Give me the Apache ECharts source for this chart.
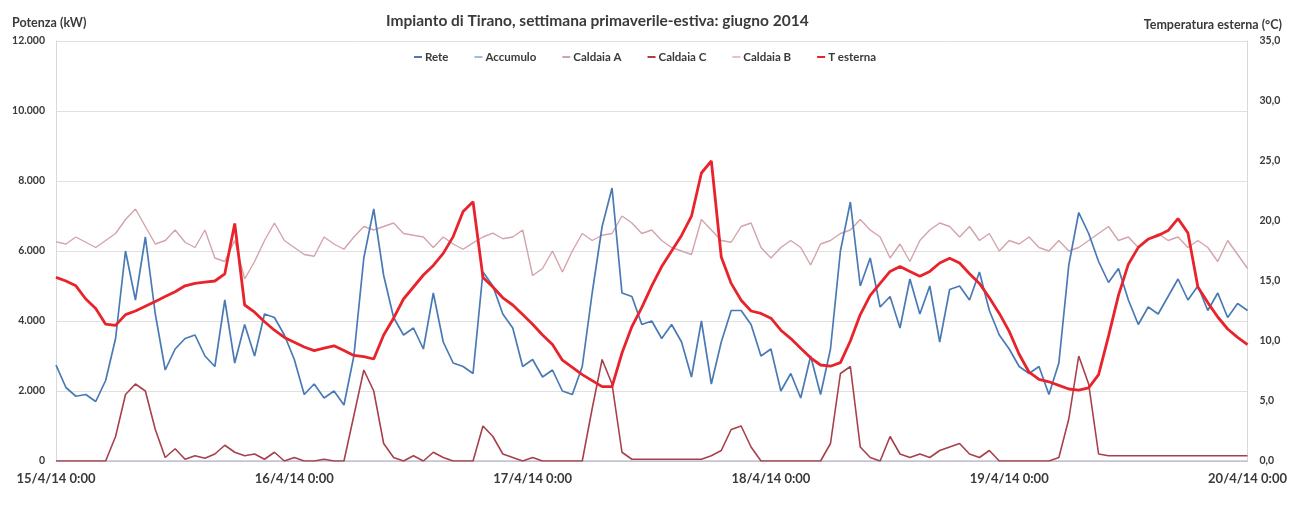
<!DOCTYPE html>
<html><head><meta charset="utf-8">
<script src="https://cdn.jsdelivr.net/npm/echarts@6/dist/echarts.min.js"></script>
<style>html,body{margin:0;padding:0;background:#fff}#c{width:1290px;height:513px}</style>
</head><body><div id="c"></div>
<script>
const xLabels = ['15/4/14 0:00','16/4/14 0:00','17/4/14 0:00','18/4/14 0:00','19/4/14 0:00','20/4/14 0:00'];
const seriesNames = ['Rete','Accumulo','Caldaia A','Caldaia C','Caldaia B','T esterna'];
// hourly values, 15/4 0:00 .. 20/4 0:00
const rete = [
 2740,2100,1850,1900,1700,2300,3500,6000,4600,6400,4200,2600,3200,3500,3600,3000,2700,4600,2800,3900,3000,4200,4100,3600,
 2900,1900,2200,1800,2000,1600,3000,5800,7200,5300,4100,3600,3800,3200,4800,3400,2800,2700,2500,5400,5000,4200,3800,2700,
 2900,2400,2600,2000,1900,2700,4800,6700,7800,4800,4700,3900,4000,3500,3900,3400,2400,4000,2200,3400,4300,4300,3900,3000,
 3200,2000,2500,1800,3000,1900,3200,6000,7400,5000,5800,4400,4700,3800,5200,4200,5000,3400,4900,5000,4600,5400,4300,3600,
 3200,2700,2500,2700,1900,2800,5600,7100,6500,5700,5100,5500,4600,3900,4400,4200,4700,5200,4600,5000,4300,4800,4100,4500,4300];
const accumulo = [
 0,0,0,0,0,0,0,0,0,0,0,0,0,0,0,0,0,0,0,0,0,0,0,0,
 0,0,0,0,0,0,0,0,0,0,0,0,0,0,0,0,0,0,0,0,0,0,0,0,
 0,0,0,0,0,0,0,0,0,0,0,0,0,0,0,0,0,0,0,0,0,0,0,0,
 0,0,0,0,0,0,0,0,0,0,0,0,0,0,0,0,0,0,0,0,0,0,0,0,
 0,0,0,0,0,0,0,0,0,0,0,0,0,0,0,0,0,0,0,0,0,0,0,0,0];
const caldaiaA = [
 6260,6200,6400,6250,6100,6300,6500,6900,7200,6700,6200,6300,6600,6250,6100,6600,5800,5700,6300,5200,5700,6300,6800,6300,
 6100,5900,5850,6400,6200,6050,6400,6700,6600,6700,6800,6500,6450,6400,6100,6400,6200,6050,6230,6400,6510,6350,6400,6600,
 5300,5500,6000,5400,6000,6500,6300,6450,6500,7000,6800,6500,6600,6300,6100,6000,5900,6900,6600,6300,6250,6700,6800,6100,
 5800,6100,6300,6100,5600,6200,6300,6500,6600,6900,6600,6400,5800,6200,5700,6300,6600,6800,6700,6400,6700,6300,6500,6000,
 6300,6200,6400,6100,6000,6300,6000,6100,6300,6500,6700,6300,6400,6100,6300,6500,6300,6400,6100,6300,6100,5700,6300,5900,5500];
const caldaiaC = [
 0,0,0,0,0,0,700,1900,2200,2000,900,100,350,50,150,80,200,450,250,150,200,50,250,0,
 100,0,0,50,0,0,1300,2600,2000,500,100,0,150,0,250,100,0,0,0,1000,700,200,100,0,
 100,0,0,0,0,0,1500,2900,2200,250,50,50,50,50,50,50,50,50,150,300,900,1000,400,0,
 0,0,0,0,0,0,500,2500,2700,400,100,0,700,200,100,200,100,300,400,500,200,100,300,0,
 0,0,0,0,0,100,1200,3000,2200,200,150,150,150,150,150,150,150,150,150,150,150,150,150,150,150];
const caldaiaB = [
 0,0,0,0,0,0,0,0,0,0,0,0,0,0,0,0,0,0,0,0,0,0,0,0,
 0,0,0,0,0,0,0,0,0,0,0,0,0,0,0,0,0,0,0,0,0,0,0,0,
 0,0,0,0,0,0,0,0,0,0,0,0,0,0,0,0,0,0,0,0,0,0,0,0,
 0,0,0,0,0,0,0,0,0,0,0,0,0,0,0,0,0,0,0,0,0,0,0,0,
 0,0,0,0,0,0,0,0,0,0,0,0,0,0,0,0,0,0,0,0,0,0,0,0,0];
const tEsterna = [
 15.3,15.0,14.6,13.5,12.7,11.4,11.3,12.2,12.5,12.9,13.3,13.7,14.1,14.6,14.8,14.9,15.0,15.6,19.8,13.0,12.4,11.6,10.9,10.3,
 9.9,9.5,9.2,9.4,9.6,9.2,8.8,8.7,8.5,10.5,11.9,13.5,14.5,15.5,16.3,17.3,18.7,20.8,21.6,15.3,14.5,13.6,13.0,12.2,
 11.4,10.5,9.7,8.4,7.8,7.2,6.7,6.2,6.2,9.0,11.2,12.8,14.6,16.2,17.5,18.8,20.4,24.0,25.0,17.0,14.8,13.4,12.5,12.3,
 11.9,10.9,10.2,9.4,8.6,8.0,7.9,8.2,10.0,12.2,13.8,14.8,15.8,16.2,15.8,15.4,15.8,16.5,16.9,16.5,15.6,14.8,13.6,12.3,
 10.8,8.9,7.4,6.8,6.6,6.3,6.0,5.9,6.1,7.2,10.4,13.8,16.4,17.8,18.5,18.8,19.2,20.2,19.0,14.5,13.2,12.0,11.0,10.3,9.7];

const pts = arr => arr.map((v,i)=>[i,v]);
const FONT = 'Lato';
const TXT = '#3a3a3a';
const chart = echarts.init(document.getElementById('c'), null, {renderer:'canvas'});
const kfmt = v => v===0 ? '0' : Math.floor(v/1000)+'.'+String(v%1000).padStart(3,'0');
chart.setOption({
  animation:false,
  backgroundColor:'#fff',
  textStyle:{fontFamily:FONT},
  title:[
    {text:'Impianto di Tirano, settimana primaverile-estiva: giugno 2014', left:381, top:8,
     textStyle:{fontSize:15.5,fontWeight:'bold',color:TXT,fontFamily:FONT}},
    {text:'Potenza (kW)', left:7, top:11, textStyle:{fontSize:12.5,fontWeight:'bold',color:TXT,fontFamily:FONT}},
    {text:'Temperatura esterna (°C)', right:3, top:13, textStyle:{fontSize:12.5,fontWeight:'bold',color:TXT,fontFamily:FONT}}
  ],
  legend:{top:46, left:'center', itemWidth:8, itemHeight:2, itemGap:26, icon:'rect',
    data:seriesNames, textStyle:{fontSize:11.5,fontWeight:'bold',color:TXT,fontFamily:FONT,padding:[0,0,0,-2]}},
  grid:{left:56, right:40, top:41, bottom:52},
  xAxis:{type:'value', min:0, max:120, interval:24,
    axisLine:{show:true, lineStyle:{color:'#b8c8dc',width:1}},
    axisTick:{show:false}, splitLine:{show:false},
    axisLabel:{formatter:v=>xLabels[v/24], fontSize:13, fontWeight:'bold', color:TXT, margin:11, fontFamily:FONT}},
  yAxis:[
    {type:'value', min:0, max:12000, interval:2000,
     axisLine:{show:true, lineStyle:{color:'#d9d9d9'}}, axisTick:{show:false},
     splitLine:{lineStyle:{color:'#e0e0e0',width:1}},
     axisLabel:{formatter:kfmt, fontSize:10.5, fontWeight:'bold', color:TXT, margin:11, fontFamily:FONT}},
    {type:'value', min:0, max:35, interval:5, position:'right',
     axisLine:{show:true, lineStyle:{color:'#d9d9d9'}}, axisTick:{show:false}, splitLine:{show:false},
     axisLabel:{formatter:v=>v.toFixed(1).replace('.',','), fontSize:10.5, fontWeight:'bold', color:TXT, margin:12, fontFamily:FONT}}
  ],
  series:[
    {name:'Rete', type:'line', data:pts(rete), showSymbol:false, lineStyle:{width:1.7,color:'#4a7ab5'}, itemStyle:{color:'#4a7ab5'}, z:3},
    {name:'Accumulo', type:'line', data:pts(accumulo), showSymbol:false, lineStyle:{width:1.2,color:'#9fbbe0'}, itemStyle:{color:'#9fbbe0'}, z:2},
    {name:'Caldaia A', type:'line', data:pts(caldaiaA), showSymbol:false, lineStyle:{width:1.4,color:'#d4a3ab'}, itemStyle:{color:'#d4a3ab'}, z:2},
    {name:'Caldaia C', type:'line', data:pts(caldaiaC), showSymbol:false, lineStyle:{width:1.6,color:'#a8404c'}, itemStyle:{color:'#a8404c'}, z:3},
    {name:'Caldaia B', type:'line', data:pts(caldaiaB), showSymbol:false, lineStyle:{width:1.2,color:'#e6c3c8'}, itemStyle:{color:'#e6c3c8'}, z:2},
    {name:'T esterna', type:'line', yAxisIndex:1, data:pts(tEsterna), showSymbol:false, lineStyle:{width:2.8,color:'#e8232b'}, itemStyle:{color:'#e8232b'}, z:4}
  ]
});
</script></body></html>
